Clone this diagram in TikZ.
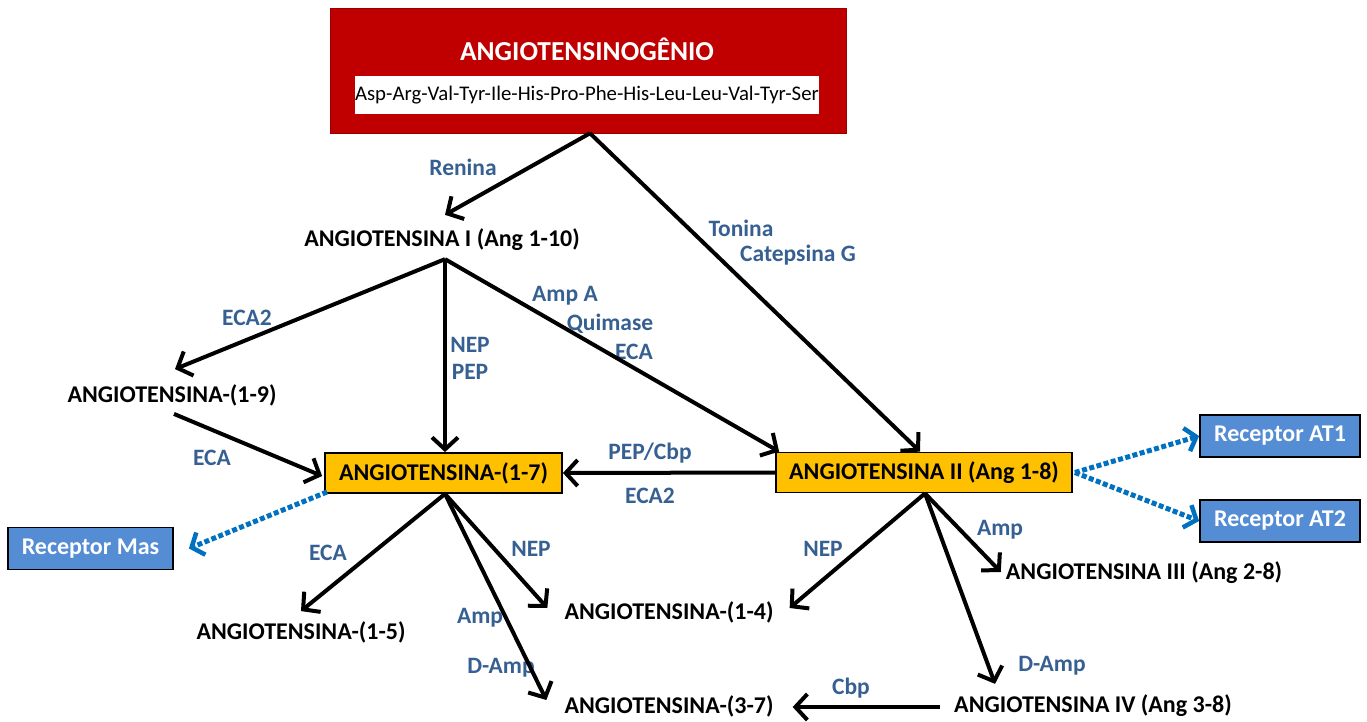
\documentclass[tikz,border=0pt]{standalone}
\usepackage{fontspec}
\setmainfont{Carlito}
\usetikzlibrary{arrows.meta,calc}
\definecolor{enzblue}{RGB}{55,96,146}
\definecolor{dotblue}{RGB}{0,112,192}
\definecolor{recblue}{RGB}{84,141,212}
\definecolor{boxorange}{RGB}{255,192,0}
\definecolor{boxred}{RGB}{192,0,0}
\tikzset{
  lbl/.style={font=\fontsize{24}{28}\selectfont\bfseries, inner sep=0pt, text=black},
  enz/.style={font=\fontsize{23.5}{27}\selectfont\bfseries, inner sep=0pt, text=enzblue, align=left},
  obox/.style={draw=black, line width=1.8pt, fill=boxorange, minimum height=40pt, font=\fontsize{24}{28}\selectfont\bfseries, inner sep=0pt},
  rbox/.style={draw=black, line width=1.8pt, fill=recblue, minimum height=42pt, font=\fontsize{24}{28}\selectfont\bfseries, text=white, inner sep=0pt},
  arr/.style={draw=black, line width=4pt, -{Straight Barb[length=12pt,width=26pt,line width=4pt]}},
  dotarr/.style={draw=dotblue, line width=5pt, dash pattern=on 5pt off 2.5pt, -{Straight Barb[length=10pt,width=24pt,line width=4.5pt]}}
}
\begin{document}
\begin{tikzpicture}[x=1pt,y=-1pt]
\useasboundingbox (0,0) rectangle (1367,722);
% top box
\node[draw=boxred!80!black, line width=0.5pt, fill=boxred, minimum width=516pt, minimum height=125pt, inner sep=0pt] (agt) at (588,70.5) {};
\node[font=\fontsize{27.4}{31}\selectfont\bfseries, text=white, inner sep=0pt] (agtt) at (587,49) {ANGIOTENSINOGÊNIO};
\node[fill=white, minimum width=463pt, minimum height=38pt, inner sep=0pt, font=\fontsize{20.8}{24}\selectfont] (seq) at (587,95.5) {Asp-Arg-Val-Tyr-Ile-His-Pro-Phe-His-Leu-Leu-Val-Tyr-Ser};
% main labels
\node[lbl] (angI) at (442,240) {ANGIOTENSINA I (Ang 1-10)};
\node[lbl] (ang19) at (172,395) {ANGIOTENSINA-(1-9)};
\node[obox, minimum width=237pt] (ang17) at (443.5,473) {ANGIOTENSINA-(1-7)};
\node[obox, minimum width=296pt] (angII) at (924,472.5) {ANGIOTENSINA II (Ang 1-8)};
\node[rbox, minimum width=160pt] (at1) at (1280,436) {Receptor AT1};
\node[rbox, minimum width=160pt] (at2) at (1280,521) {Receptor AT2};
\node[rbox, minimum width=165pt] (mas) at (90.5,548.5) {Receptor Mas};
\node[lbl] (ang15) at (301,632) {ANGIOTENSINA-(1-5)};
\node[lbl] (ang14) at (669,612) {ANGIOTENSINA-(1-4)};
\node[lbl] (ang37) at (669,706) {ANGIOTENSINA-(3-7)};
\node[lbl] (angIII) at (1144,573) {ANGIOTENSINA III (Ang 2-8)};
\node[lbl] (angIV) at (1093,706) {ANGIOTENSINA IV (Ang 3-8)};
% enzyme labels
\node[enz] (eRen) at (463,167) {Renina};
\node[enz] (eTon) at (741,228) {Tonina};
\node[enz] (eCat) at (798,255) {Catepsina G};
\node[enz] (eECA2a) at (247,318) {ECA2};
\node[enz] (eNEP1) at (470,345) {NEP};
\node[enz] (ePEP1) at (470,372) {PEP};
\node[enz] (eAmpA) at (565,296) {Amp A};
\node[enz] (eQui) at (610,324) {Quimase};
\node[enz] (eECAa) at (634,352) {ECA};
\node[enz] (eECAb) at (212,458) {ECA};
\node[enz] (ePEPC) at (650,453) {PEP/Cbp};
\node[enz] (eECA2b) at (650,496) {ECA2};
\node[enz] (eECAc) at (328,553) {ECA};
\node[enz] (eNEP2) at (531,549) {NEP};
\node[enz] (eAmp1) at (480,618) {Amp};
\node[enz] (eDAmp1) at (501,668) {D-Amp};
\node[enz] (eNEP3) at (823,549) {NEP};
\node[enz] (eAmp2) at (1000,530) {Amp};
\node[enz] (eDAmp2) at (1052,666) {D-Amp};
\node[enz] (eCbp) at (851,688) {Cbp};
% arrows
\draw[arr] ([xshift=2pt]agt.south) -- ([xshift=3pt,yshift=14pt]angI.north);
\draw[arr] ([xshift=2pt]agt.south) -- ([xshift=-4pt]angII.north);
\draw[arr] ([xshift=3pt,yshift=-8pt]angI.south) -- ([xshift=3pt,yshift=15pt]ang19.north);
\draw[arr] ([xshift=3pt,yshift=-8pt]angI.south) -- ([xshift=1.5pt]ang17.north);
\draw[arr] ([xshift=3pt,yshift=-8pt]angI.south) -- ([xshift=4pt]angII.north west);
\draw[arr] ([xshift=2pt,yshift=-8pt]ang19.south) -- ([xshift=-2pt,yshift=-3pt]ang17.west);
\draw[arr] (angII.west) -- (ang17.east);
\draw[arr] ([xshift=1.5pt]ang17.south) -- ([yshift=10pt]ang15.north);
\draw[arr] ([xshift=1.5pt]ang17.south) -- ([xshift=-17pt,yshift=4pt]ang14.west);
\draw[arr] ([xshift=1.5pt]ang17.south) -- ([xshift=-18pt,yshift=6pt]ang37.west);
\draw[arr] ([xshift=1pt]angII.south) -- ([xshift=16pt,yshift=4pt]ang14.east);
\draw[arr] ([xshift=1pt]angII.south) -- ([xshift=-5pt,yshift=1pt]angIII.west);
\draw[arr] ([xshift=1pt]angII.south) -- ([xshift=41pt,yshift=11pt]angIV.north west);
\draw[arr] ([xshift=-14pt,yshift=-1pt]angIV.west) -- ([xshift=19pt,yshift=-1pt]ang37.east);
\draw[dotarr] ([xshift=2pt]angII.east) -- (at1.west);
\draw[dotarr] ([xshift=2pt]angII.east) -- (at2.west);
\draw[dotarr] ([xshift=3pt,yshift=2pt]ang17.south west) -- ([xshift=15pt]mas.east);
\end{tikzpicture}
\end{document}
